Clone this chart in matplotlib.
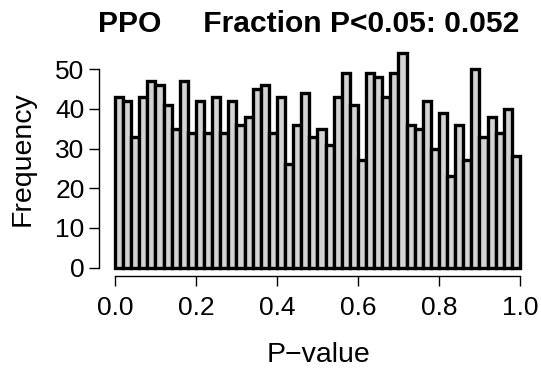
import numpy as np
import matplotlib
matplotlib.use("Agg")
import matplotlib.pyplot as plt

# histogram of p-values, 50 bins of width 0.02
bin_width = 0.02
counts = [43, 42, 33, 43, 47, 46, 41, 35, 47, 34,
          42, 34, 43, 34, 42, 36, 38, 45, 46, 34,
          43, 26, 36, 44, 33, 35, 31, 43, 49, 41,
          27, 49, 48, 43, 49, 54, 36, 35, 42, 30,
          39, 23, 36, 27, 50, 33, 38, 34, 40, 28]
xticks = [0.0, 0.2, 0.4, 0.6, 0.8, 1.0]
xticklabels = ["0.0", "0.2", "0.4", "0.6", "0.8", "1.0"]
yticks = [0, 10, 20, 30, 40, 50]
title = "PPO     Fraction P<0.05: 0.052"

plt.rcParams['font.family'] = ['Liberation Sans', 'DejaVu Sans']

fig = plt.figure(figsize=(5.41, 3.73), dpi=100)
ax = fig.add_axes([0.1826, 0.2592, 0.8085, 0.6214])

lefts = np.arange(len(counts)) * bin_width
ax.bar(lefts, counts, width=bin_width, align='edge',
       color='#d3d3d3', edgecolor='black', linewidth=2.4)

# R style axes, 4% padding
ax.set_xlim(-0.04, 1.04)
ax.set_ylim(-0.04 * 54, 54 * 1.04)
ax.spines['top'].set_visible(False)
ax.spines['right'].set_visible(False)
ax.spines['left'].set_bounds(0, 50)
ax.spines['bottom'].set_bounds(0, 1)
ax.spines['left'].set_linewidth(1.0)
ax.spines['bottom'].set_linewidth(1.0)

ax.set_xticks(xticks)
ax.set_xticklabels(xticklabels)
ax.set_yticks(yticks)
ax.tick_params(axis='both', direction='out', length=7.2, width=1.0,
               labelsize=19)
ax.tick_params(axis='x', pad=7)
ax.tick_params(axis='y', pad=3)

fig.text(0.570, 0.9357, title, fontsize=21.6, fontweight='bold',
         ha='center', va='center')
fig.text(0.589, 0.049, "P\u2212value", fontsize=20.5, ha='center', va='center')
fig.text(0.041, 0.574, "Frequency", fontsize=20.5, rotation=90,
         ha='center', va='center')

fig.savefig("out.png", dpi=100)
